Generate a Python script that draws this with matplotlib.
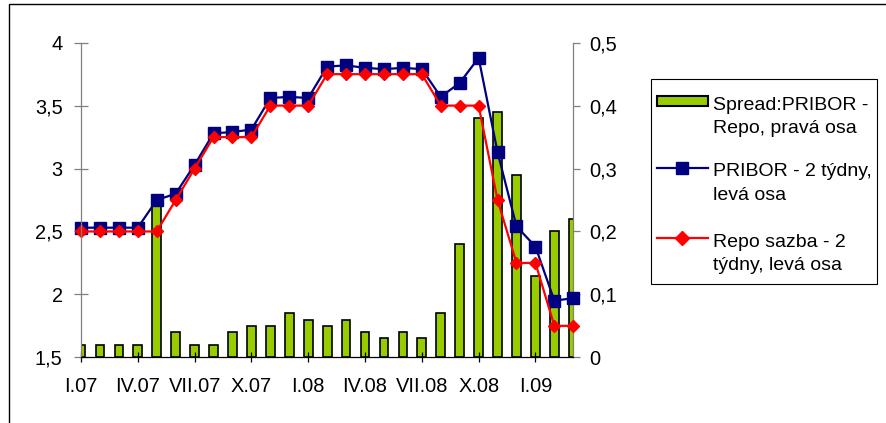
import matplotlib
matplotlib.use("Agg")
import matplotlib.pyplot as plt
from matplotlib.patches import Rectangle
from matplotlib.lines import Line2D

plt.rcParams['font.family'] = ['Liberation Sans', 'DejaVu Sans']

# Monthly series, I.07 - III.09
pribor = [2.53, 2.53, 2.53, 2.53, 2.75, 2.80, 3.03, 3.28, 3.29, 3.31, 3.56, 3.57, 3.56,
          3.81, 3.82, 3.80, 3.79, 3.80, 3.79, 3.57, 3.68, 3.88, 3.13, 2.54, 2.38, 1.95, 1.97]
repo = [2.50, 2.50, 2.50, 2.50, 2.50, 2.75, 3.00, 3.25, 3.25, 3.25, 3.50, 3.50, 3.50,
        3.75, 3.75, 3.75, 3.75, 3.75, 3.75, 3.50, 3.50, 3.50, 2.75, 2.25, 2.25, 1.75, 1.75]
spread = [0.02, 0.02, 0.02, 0.02, 0.25, 0.04, 0.02, 0.02, 0.04, 0.05, 0.05, 0.07, 0.06,
          0.05, 0.06, 0.04, 0.03, 0.04, 0.03, 0.07, 0.18, 0.38, 0.39, 0.29, 0.13, 0.20, 0.22]

x_tick_pos = [0, 3, 6, 9, 12, 15, 18, 21, 24]
x_tick_labels = ["I.07", "IV.07", "VII.07", "X.07", "I.08", "IV.08", "VII.08", "X.08", "I.09"]
left_ticks = [1.5, 2.0, 2.5, 3.0, 3.5, 4.0]
left_tick_labels = ["1,5", "2", "2,5", "3", "3,5", "4"]
right_ticks = [0.0, 0.1, 0.2, 0.3, 0.4, 0.5]
right_tick_labels = ["0", "0,1", "0,2", "0,3", "0,4", "0,5"]

legend_labels = [
    ["Spread:PRIBOR -", "Repo, pravá osa"],
    ["PRIBOR - 2 týdny,", "levá osa"],
    ["Repo sazba - 2", "týdny, levá osa"],
]

GREEN = "#99CC00"
NAVY = "#000080"
RED = "#FF0000"
GRAY = "#808080"

W, H = 886, 423
fig = plt.figure(figsize=(W / 100, H / 100), dpi=100)


def fx(px):
    return px / W


def fy(py):
    return 1 - py / H


ax = fig.add_axes([fx(81), fy(357.3), fx(573.3) - fx(81), fy(42.7) - fy(357.3)])
ax2 = ax.twinx()
ax.set_zorder(2)
ax2.set_zorder(1)
ax.patch.set_visible(False)

xs = list(range(len(pribor)))

# spread bars on the right axis
ax2.bar(xs, spread, width=0.46, color=GREEN, edgecolor="black", linewidth=1.2)
ax2.set_ylim(0, 0.5)
ax2.set_yticks(right_ticks)
ax2.set_yticklabels(right_tick_labels)

# rates on the left axis
ax.plot(xs, pribor, color=NAVY, lw=1.6, marker="s", ms=8.3, mfc=NAVY, mec=NAVY, clip_on=False)
ax.plot(xs, repo, color=RED, lw=1.6, marker="D", ms=6.2, mfc=RED, mec=RED, clip_on=False)
ax.set_ylim(1.5, 4.0)
ax.set_xlim(0, len(pribor) - 1)
ax.set_yticks(left_ticks)
ax.set_yticklabels(left_tick_labels)
ax.set_xticks(x_tick_pos)
ax.set_xticklabels(x_tick_labels)

for a in (ax, ax2):
    for s in a.spines.values():
        s.set_visible(False)
ax.spines["left"].set_visible(True)
ax.spines["left"].set_color(GRAY)
ax.spines["left"].set_linewidth(0.9)
ax.spines["bottom"].set_visible(True)
ax.spines["bottom"].set_color("black")
ax.spines["bottom"].set_linewidth(0.9)
ax2.spines["right"].set_visible(True)
ax2.spines["right"].set_color(GRAY)
ax2.spines["right"].set_linewidth(0.9)

ax.tick_params(axis="y", direction="inout", length=10, width=0.9, color=GRAY,
               labelsize=14.4, pad=8.2)
ax.tick_params(axis="x", direction="inout", length=7, width=0.9, color="black",
               labelsize=14.4, pad=10.5)
ax2.tick_params(axis="y", direction="out", length=5, width=0.9, color=GRAY,
                labelsize=14.4, pad=6.5)

# outer chart frame
fig.add_artist(Rectangle((fx(8.5), -0.2), 1.2, fy(4.3) + 0.2, transform=fig.transFigure,
                         fill=False, ec="black", lw=1.0))

# legend box
fig.add_artist(Rectangle((fx(651), fy(284)), fx(877) - fx(651), fy(79) - fy(284),
                         transform=fig.transFigure, fc="white", ec="black", lw=0.8))
fig.add_artist(Rectangle((fx(656.5), fy(106.5)), fx(708) - fx(656.5), fy(96) - fy(106.5),
                         transform=fig.transFigure, fc=GREEN, ec="black", lw=1.5))
for yk, col, mk, ms in [(168.5, NAVY, "s", 8.3), (238.5, RED, "D", 7.0)]:
    fig.add_artist(Line2D([fx(656.5), fx(708)], [fy(yk), fy(yk)], transform=fig.transFigure,
                          color=col, lw=1.6))
    fig.add_artist(Line2D([fx(682)], [fy(yk)], transform=fig.transFigure, color=col,
                          marker=mk, ms=ms, mfc=col, mec=col, lw=0))

baselines = [(109.5, 133.3), (176.0, 199.5), (246.5, 270.0)]
for (b1, b2), (l1, l2) in zip(baselines, legend_labels):
    fig.text(fx(713), fy(b1), l1, ha="left", va="baseline", fontsize=14)
    fig.text(fx(713), fy(b2), l2, ha="left", va="baseline", fontsize=14)

fig.savefig("out.png", dpi=100)
